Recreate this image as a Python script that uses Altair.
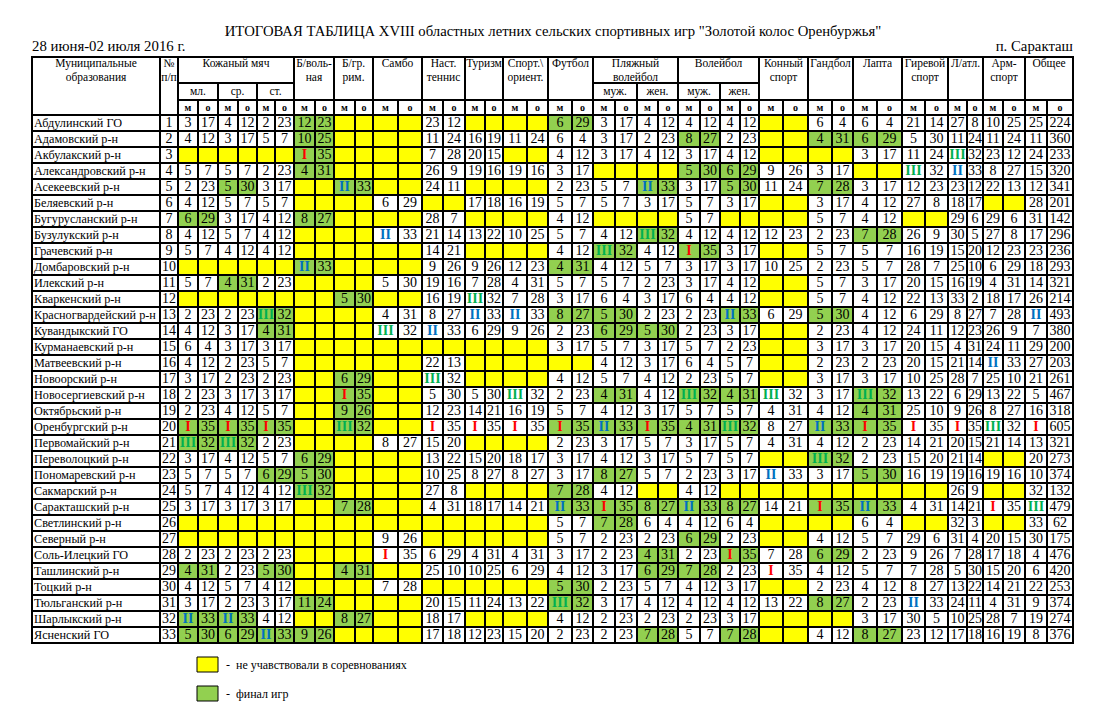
import altair as alt
import pandas as pd

# ---------------- data ----------------
TITLE = 'ИТОГОВАЯ ТАБЛИЦА XVIII областных летних сельских спортивных игр "Золотой колос Оренбуржья"'
DATES = "28 июня-02 июля 2016 г."
PLACE = "п. Саракташ"

municipalities = [
    "Абдулинский ГО", "Адамовский р-н", "Акбулакский р-н", "Александровский р-н",
    "Асекеевский р-н", "Беляевский р-н", "Бугурусланский р-н", "Бузулукский р-н",
    "Грачевский р-н", "Домбаровский р-н", "Илекский р-н", "Кваркенский р-н",
    "Красногвардейский р-н", "Кувандыкский ГО", "Курманаевский р-н", "Матвеевский р-н",
    "Новоорский р-н", "Новосергиевский р-н", "Октябрьский р-н", "Оренбургский р-н",
    "Первомайский р-н", "Переволоцкий р-н", "Пономаревский р-н", "Сакмарский р-н",
    "Саракташский р-н", "Светлинский р-н", "Северный р-н", "Соль-Илецкий ГО",
    "Ташлинский р-н", "Тоцкий р-н", "Тюльганский р-н", "Шарлыкский р-н", "Ясненский ГО",
]

# (header, sub-headers or None); every (sub)column has "м" (place) and "о" (points)
sport_groups = [
    ("Кожаный мяч", ["мл.", "ср.", "ст."]),
    ("Б/воль-\nная", None),
    ("Б/гр.\nрим.", None),
    ("Самбо", None),
    ("Наст.\nтеннис", None),
    ("Туризм", None),
    ("Спорт.\\\nориент.", None),
    ("Футбол", None),
    ("Пляжный\nволейбол", ["муж.", "жен."]),
    ("Волейбол", ["муж.", "жен."]),
    ("Конный\nспорт", None),
    ("Гандбол", None),
    ("Лапта", None),
    ("Гиревой\nспорт", None),
    ("Л/атл.", None),
    ("Арм-\nспорт", None),
    ("Общее", None),
]
sub_cols = ["м", "о"]

# "-" = did not take part (yellow); "*" = final of the games (green)
results = [
    "3 17 4 12 2 23 12* 23* - - - - 23 12 - - - - 6* 29* 3 17 4 12 4 12 4 12 - - 6 4 6 4 21 14 27 8 10 25 25 224",
    "4 12 3 17 5 7 10* 25* - - - - 11 24 16 19 11 24 6 4 3 17 2 23 8* 27* 2 23 - - 4* 31* 6* 29* 5 30 11 24 11 24 11 360",
    "- - - - - - I* 35* - - - - 7 28 20 15 - - 4 12 3 17 4 12 3 17 4 12 - - - - 3 17 11 24 III 32 23 12 24 233",
    "5 7 5 7 2 23 4* 31* - - - - 26 9 19 16 19 16 3 17 - - - - 5* 30* 6* 29* 9 26 3 17 - - III 32 II 33 8 27 15 320",
    "2 23 5* 30* 3 17 - - II* 33* - - 24 11 - - - - 2 23 5 7 II* 33* 3 17 5* 30* 11 24 7* 28* 3 17 12 23 23 12 22 13 12 341",
    "4 12 5 7 5 7 - - - - 6 29 - - 17 18 16 19 5 7 5 7 3 17 5 7 3 17 - - 3 17 4 12 27 8 18 17 - - 28 201",
    "6* 29* 3 17 4 12 8* 27* - - - - 28 7 - - - - 4 12 - - - - 5 7 - - - - 5 7 4 12 - - 29 6 29 6 31 142",
    "4 12 5 7 4 12 - - - - II 33 21 14 13 22 10 25 5 7 4 12 III* 32* 4 12 4 12 12 23 2 23 7* 28* 26 9 30 5 27 8 17 296",
    "5 7 4 12 4 12 - - - - - - 14 21 - - - - 4 12 III* 32* 4 12 I* 35* 3 17 - - 5 7 5 7 16 19 15 20 12 23 23 236",
    "- - - - - - II* 33* - - - - 9 26 9 26 12 23 4* 31* 4 12 5 7 3 17 3 17 10 25 2 23 5 7 28 7 25 10 6 29 18 293",
    "5 7 4* 31* 2 23 - - - - 5 30 19 16 7 28 4 31 5 7 5 7 2 23 3 17 4 12 - - 5 7 3 17 20 15 16 19 4 31 14 321",
    "- - - - - - - - 5* 30* - - 16 19 III 32 7 28 3 17 6 4 3 17 6 4 4 12 - - 5 7 4 12 22 13 33 2 18 17 26 214",
    "2 23 2 23 III* 32* - - - - 4 31 8 27 II 33 II 33 8* 27* 5* 30* 2 23 2 23 II* 33* 6 29 5* 30* 4 12 6 29 8 27 7 28 II 493",
    "4 12 3 17 4* 31* - - - - III 32 II 33 6 29 9 26 2 23 6* 29* 5* 30* 2 23 3 17 - - 2 23 4 12 24 11 12 23 26 9 7 380",
    "6 4 3 17 3 17 - - - - - - - - - - - - 3 17 5 7 3 17 5 7 2 23 - - 3 17 3 17 20 15 4 31 24 11 29 200",
    "4 12 2 23 5 7 - - - - - - 22 13 - - - - - - 4 12 3 17 6 4 5 7 - - 2 23 2 23 20 15 21 14 II 33 27 203",
    "3 17 2 23 2 23 - - 6* 29* - - III 32 - - - - 4 12 5 7 4 12 2 23 5 7 - - 3 17 3 17 10 25 28 7 25 10 21 261",
    "2 23 3 17 3 17 - - I* 35* - - 5 30 5 30 III 32 2 23 4* 31* 4 12 III* 32* 4* 31* III 32 3 17 III* 32* 13 22 6 29 13 22 5 467",
    "2 23 4 12 5 7 - - 9* 26* - - 12 23 14 21 16 19 5 7 4 12 3 17 5 7 5 7 4 31 4 12 4* 31* 25 10 9 26 8 27 16 318",
    "I* 35* I* 35* I* 35* - - III* 32* - - I 35 I 35 I 35 I* 35* II* 33* I* 35* 4* 31* III* 32* 8 27 II* 33* I* 35* I 35 I 35 III 32 I 605",
    "III* 32* III* 32* 2 23 - - - - 8 27 15 20 - - - - 2 23 3 17 5 7 3 17 5 7 4 31 4 12 2 23 14 21 20 15 21 14 13 321",
    "3 17 4 12 5 7 6* 29* - - - - 13 22 15 20 18 17 3 17 4 12 3 17 5 7 5 7 - - III* 32* 2 23 15 20 21 14 - - 20 273",
    "5 7 5 7 6* 29* 5* 30* - - - - 10 25 8 27 8 27 3 17 8* 27* 5 7 2 23 3 17 II 33 3 17 5* 30* 16 19 19 16 19 16 10 374",
    "5 7 4 12 4 12 III* 32* - - - - 27 8 - - - - 7* 28* 4 12 - - 4 12 - - - - - - - - - - 26 9 - - 32 132",
    "3 17 3 17 3 17 - - 7* 28* - - 4 31 18 17 14 21 II* 33* I* 35* 8* 27* II* 33* 8* 27* 14 21 I* 35* II* 33* 4 31 14 21 I 35 III 479",
    "- - - - - - - - - - - - - - - - - - 5 7 7* 28* 6 4 4 12 6 4 - - - - 6 4 - - 32 3 - - 33 62",
    "- - - - - - - - - - 9 26 - - - - - - 5 7 2 23 2 23 6* 29* 2 23 - - 4 12 5 7 29 6 31 4 20 15 30 175",
    "2 23 2 23 2 23 - - - - I 35 6 29 4 31 4 31 3 17 2 23 4* 31* 2 23 I* 35* 7 28 6* 29* 2 23 9 26 7 28 17 18 4 476",
    "4* 31* 2 23 5* 30* - - 4* 31* - - 25 10 10 25 6 29 4 12 3 17 6* 29* 7* 28* 2 23 I 35 4 12 5 7 7 28 5 30 15 20 6 420",
    "4 12 5 7 4 12 - - - - 7 28 - - - - - - 5* 30* 2 23 5 7 4 12 3 17 - - 2 23 4 12 8 27 13 22 14 21 22 253",
    "3 17 2 23 3 17 11* 24* - - - - 20 15 11 24 13 22 III* 32* 3 17 4 12 4 12 4 12 13 22 8* 27* 2 23 II 33 24 11 4 31 9 374",
    "II* 33* II* 33* 4 12 - - 8* 27* - - 18 17 - - - - 4 12 2 23 2 23 2 23 3 17 - - - - 3 17 30 5 10 25 28 7 19 274",
    "5* 30* 6* 29* II* 33* 9* 26* - - - - 17 18 12 23 15 20 2 23 2 23 7* 28* 5 7 7* 28* - - 4 12 8* 27* 23 12 17 18 16 19 8 376",
]

legend_labels = ["-\u00a0\u00a0не учавствовали в соревнованиях", "-\u00a0\u00a0финал игр"]

# ---------------- styles / layout ----------------
FONT = "Liberation Serif"
YELLOW = "#FFFF00"
GREEN = "#92D050"
WHITE = "#FFFFFF"
ROMAN_COLORS = {"I": "#FF0000", "II": "#0070C0", "III": "#00B050"}

# column edges (page px) of the 42 data columns
COL_EDGES = [178, 198, 218, 238, 257, 275, 294, 315, 334, 355, 373, 398, 422, 443,
             465, 485, 503, 527, 548, 572, 593, 615, 637, 658, 678, 700, 720, 740,
             759, 783, 808, 832, 853, 877, 902, 925, 948, 967, 983, 1003, 1025, 1047, 1073]
NAME_X = (32, 160)
NUM_X = (160, 178)
HEAD_Y = [57, 83, 100, 115]
ROW_H = 16

rects, t_left, t_center, t_roman, t_head, t_mo = [], [], [], [], [], []


def add_rect(x0, x1, y0, y1, fill=WHITE, sw=2.0):
    rects.append(dict(x=x0, x2=x1, y=y0, y2=y1, fill=fill, sw=sw))


# header
add_rect(*NAME_X, HEAD_Y[0], HEAD_Y[3])
t_head.append(dict(x=sum(NAME_X) / 2, y=HEAD_Y[0] + 1, text="Муниципальные\nобразования"))
add_rect(*NUM_X, HEAD_Y[0], HEAD_Y[3])
t_head.append(dict(x=sum(NUM_X) / 2, y=HEAD_Y[0] + 1, text="№\nп/п"))

col = 0
for label, subs in sport_groups:
    if subs:
        n = 2 * len(subs)
        add_rect(COL_EDGES[col], COL_EDGES[col + n], HEAD_Y[0], HEAD_Y[1])
        for k, s in enumerate(subs):
            a, b = COL_EDGES[col + 2 * k], COL_EDGES[col + 2 * k + 2]
            add_rect(a, b, HEAD_Y[1], HEAD_Y[2])
            t_mo.append(dict(x=(a + b) / 2, y=(HEAD_Y[1] + HEAD_Y[2]) / 2, text=s, w="normal"))
    else:
        n = 2
        add_rect(COL_EDGES[col], COL_EDGES[col + n], HEAD_Y[0], HEAD_Y[2])
    t_head.append(dict(x=(COL_EDGES[col] + COL_EDGES[col + n]) / 2, y=HEAD_Y[0] + 1, text=label))
    col += n

for c in range(len(COL_EDGES) - 1):
    a, b = COL_EDGES[c], COL_EDGES[c + 1]
    add_rect(a, b, HEAD_Y[2], HEAD_Y[3])
    t_mo.append(dict(x=(a + b) / 2, y=(HEAD_Y[2] + HEAD_Y[3]) / 2, text=sub_cols[c % 2], w="bold"))

# body
for r, (name, res) in enumerate(zip(municipalities, results)):
    y0 = HEAD_Y[3] + r * ROW_H
    y1 = y0 + ROW_H
    ym = (y0 + y1) / 2
    add_rect(*NAME_X, y0, y1)
    t_left.append(dict(x=NAME_X[0] + 2, y=ym, text=name, size=12.2))
    add_rect(*NUM_X, y0, y1)
    t_center.append(dict(x=sum(NUM_X) / 2, y=ym, text=str(r + 1)))
    for c, tok in enumerate(res.split()):
        a, b = COL_EDGES[c], COL_EDGES[c + 1]
        if tok == "-":
            add_rect(a, b, y0, y1, YELLOW)
            continue
        final = tok.endswith("*")
        val = tok.rstrip("*")
        add_rect(a, b, y0, y1, GREEN if final else WHITE)
        if val in ROMAN_COLORS:
            t_roman.append(dict(x=(a + b) / 2, y=ym, text=val, color=ROMAN_COLORS[val]))
        else:
            t_center.append(dict(x=(a + b) / 2, y=ym, text=val))

# legend
table_bottom = HEAD_Y[3] + len(municipalities) * ROW_H
for k, (fill, lab) in enumerate(zip([YELLOW, GREEN], legend_labels)):
    ly0 = table_bottom + 14 + k * 29
    add_rect(COL_EDGES[1] - 1, COL_EDGES[2], ly0, ly0 + 15, fill, 1.0)
    t_left.append(dict(x=COL_EDGES[2] + 8, y=ly0 + 8, text=lab, size=12))

# top texts
t_left.append(dict(x=NAME_X[0], y=HEAD_Y[0] - 10, text=DATES, size=14.8))
top_center = pd.DataFrame([dict(x=553, y=32, text=TITLE)])
top_right = pd.DataFrame([dict(x=COL_EDGES[-1], y=HEAD_Y[0] - 10, text=PLACE)])

# ---------------- chart ----------------
XS = alt.Scale(domain=[8, 1098], nice=False, zero=False)
YS = alt.Scale(domain=[8, 705], nice=False, zero=False, reverse=True)


def X(f="x"):
    return alt.X(f"{f}:Q", scale=XS, axis=None)


def Y(f="y"):
    return alt.Y(f"{f}:Q", scale=YS, axis=None)


rect_layer = alt.Chart(pd.DataFrame(rects)).mark_rect(stroke="black").encode(
    x=X(), x2="x2:Q", y=Y(), y2="y2:Q",
    fill=alt.Fill("fill:N", scale=None),
    strokeWidth=alt.StrokeWidth("sw:Q", scale=None),
)

left_layer = alt.Chart(pd.DataFrame(t_left)).mark_text(
    font=FONT, align="left", baseline="middle", color="black"
).encode(x=X(), y=Y(), text="text:N", size=alt.Size("size:Q", scale=None))

num_layer = alt.Chart(pd.DataFrame(t_center)).mark_text(
    font=FONT, fontSize=14, align="center", baseline="middle", color="black"
).encode(x=X(), y=Y(), text="text:N")

roman_layer = alt.Chart(pd.DataFrame(t_roman)).mark_text(
    font=FONT, fontSize=14, fontWeight="bold", align="center", baseline="middle"
).encode(x=X(), y=Y(), text="text:N", color=alt.Color("color:N", scale=None))

head_layer = alt.Chart(pd.DataFrame(t_head)).mark_text(
    font=FONT, fontSize=11.5, align="center", baseline="top", lineBreak="\n", lineHeight=14, color="black"
).encode(x=X(), y=Y(), text="text:N")

mo_df = pd.DataFrame(t_mo)
mo_bold = alt.Chart(mo_df[mo_df.w == "bold"]).mark_text(
    font=FONT, fontSize=10, fontWeight="bold", align="center", baseline="middle", color="black"
).encode(x=X(), y=Y(), text="text:N")
mo_norm = alt.Chart(mo_df[mo_df.w == "normal"]).mark_text(
    font=FONT, fontSize=11.5, align="center", baseline="middle", color="black"
).encode(x=X(), y=Y(), text="text:N")

title_layer = alt.Chart(top_center).mark_text(
    font=FONT, fontSize=14.7, align="center", baseline="middle", color="black"
).encode(x=X(), y=Y(), text="text:N")

place_layer = alt.Chart(top_right).mark_text(
    font=FONT, fontSize=14.8, align="right", baseline="middle", color="black"
).encode(x=X(), y=Y(), text="text:N")

chart = alt.layer(
    rect_layer, left_layer, num_layer, roman_layer, head_layer, mo_bold, mo_norm,
    title_layer, place_layer,
).properties(
    width=1090, height=697, autosize=alt.AutoSizeParams(type="none"), padding=0,
    background="white",
).configure_view(stroke=None)

chart.save("out.html", embed_options={"renderer": "svg", "actions": False})
